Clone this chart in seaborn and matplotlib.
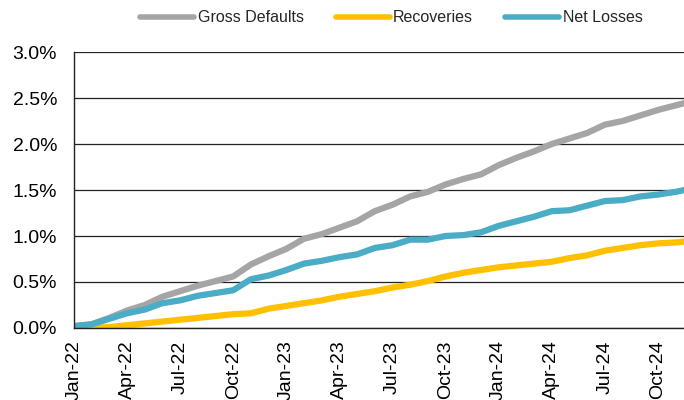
import matplotlib
matplotlib.use("Agg")
import matplotlib.pyplot as plt
import seaborn as sns
import pandas as pd
import numpy as np
from matplotlib.ticker import FuncFormatter

months = ["Jan-22", "Feb-22", "Mar-22", "Apr-22", "May-22", "Jun-22", "Jul-22", "Aug-22",
          "Sep-22", "Oct-22", "Nov-22", "Dec-22", "Jan-23", "Feb-23", "Mar-23", "Apr-23",
          "May-23", "Jun-23", "Jul-23", "Aug-23", "Sep-23", "Oct-23", "Nov-23", "Dec-23",
          "Jan-24", "Feb-24", "Mar-24", "Apr-24", "May-24", "Jun-24", "Jul-24", "Aug-24",
          "Sep-24", "Oct-24", "Nov-24", "Dec-24"]
gross_defaults = [0.02, 0.04, 0.11, 0.19, 0.25, 0.34, 0.40, 0.46, 0.51, 0.56, 0.69, 0.78,
                  0.86, 0.97, 1.02, 1.09, 1.16, 1.27, 1.34, 1.43, 1.48, 1.56, 1.62, 1.67,
                  1.77, 1.85, 1.92, 2.00, 2.06, 2.12, 2.21, 2.25, 2.31, 2.37, 2.42, 2.47]
recoveries = [0.00, 0.00, 0.01, 0.03, 0.05, 0.07, 0.09, 0.11, 0.13, 0.15, 0.16, 0.21,
              0.24, 0.27, 0.30, 0.34, 0.37, 0.40, 0.44, 0.47, 0.51, 0.56, 0.60, 0.63,
              0.66, 0.68, 0.70, 0.72, 0.76, 0.79, 0.84, 0.87, 0.90, 0.92, 0.93, 0.95]
net_losses = [0.02, 0.04, 0.10, 0.16, 0.20, 0.27, 0.30, 0.35, 0.38, 0.41, 0.53, 0.57,
              0.63, 0.70, 0.73, 0.77, 0.80, 0.87, 0.90, 0.96, 0.96, 1.00, 1.01, 1.04,
              1.11, 1.16, 1.21, 1.27, 1.28, 1.33, 1.38, 1.39, 1.43, 1.45, 1.48, 1.52]
series_names = ["Gross Defaults", "Recoveries", "Net Losses"]
colors = ["#A5A5A5", "#FFC000", "#4BACC6"]
y_ticks = [0.0, 0.5, 1.0, 1.5, 2.0, 2.5, 3.0]

sns.set_theme(style="white")
plt.rcParams["font.family"] = ["Liberation Sans", "DejaVu Sans"]

idx = np.arange(len(months))
df = pd.concat([
    pd.DataFrame({"idx": idx, "value": vals, "series": name})
    for name, vals in zip(series_names, [gross_defaults, recoveries, net_losses])
])

fig = plt.figure(figsize=(6.84, 4.0), dpi=100)
ax = fig.add_axes([0.108, 0.18, 0.892, 0.69])

sns.lineplot(data=df, x="idx", y="value", hue="series", hue_order=series_names,
             palette=colors, linewidth=4.5, ax=ax, legend=False,
             solid_capstyle="butt", solid_joinstyle="round")

ax.set_xlim(0, 34.47)
ax.set_ylim(0, 3.0)
ax.set_yticks(y_ticks)
ax.yaxis.set_major_formatter(FuncFormatter(lambda v, p: f"{v:.1f}%"))
ax.set_xticks(idx[::3])
ax.set_xticklabels(months[::3], rotation=90)
ax.set_xlabel("")
ax.set_ylabel("")

ax.grid(axis="y", color="#222222", linewidth=0.9)
ax.set_axisbelow(True)
for s in ["top", "right"]:
    ax.spines[s].set_visible(False)
for s in ["left", "bottom"]:
    ax.spines[s].set_color("#222222")
    ax.spines[s].set_linewidth(1.0)
ax.tick_params(axis="both", which="major", direction="out", length=5, width=1,
               color="#222222", labelsize=14, labelcolor="black")
ax.tick_params(axis="y", pad=7)
ax.tick_params(axis="x", pad=4)

handles = [plt.Line2D([], [], color=c, linewidth=4.0, solid_capstyle="round") for c in colors]
fig.legend(handles, series_names, loc="center", bbox_to_anchor=(0.572, 0.955), ncol=3,
           frameon=False, fontsize=11.5, handlelength=3.4, handletextpad=0.2,
           columnspacing=2.0)

fig.savefig("out.png", dpi=100)
